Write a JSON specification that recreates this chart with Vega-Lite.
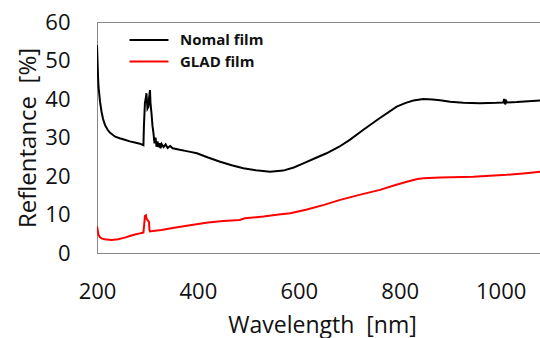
{
  "$schema": "https://vega.github.io/schema/vega-lite/v6.json",
  "autosize": {"type": "none"},
  "padding": {"left": 97, "top": 22, "right": 0, "bottom": 85},
  "width": 444,
  "height": 231,
  "background": "white",
  "config": {
    "view": {"stroke": "#888888", "strokeWidth": 1},
    "font": "Open Sans"
  },
  "datasets": {
    "nomal": [
      {"w":200,"r":54},{"w":201,"r":50},{"w":202,"r":46},{"w":203,"r":43.2},{"w":206,"r":39.3},{"w":209,"r":36.7},{"w":212,"r":34.8},{"w":216,"r":33.2},{"w":221,"r":32},{"w":226,"r":31.2},{"w":236,"r":30.2},{"w":245,"r":29.8},{"w":255,"r":29.4},{"w":265,"r":29},{"w":275,"r":28.7},{"w":285,"r":28.4},{"w":292,"r":28.0},{"w":293,"r":33},{"w":295,"r":39},{"w":297,"r":40.5},{"w":298,"r":41.5},{"w":300,"r":37.5},{"w":302,"r":38},{"w":303,"r":40},{"w":305,"r":42.3},{"w":306,"r":39},{"w":308,"r":36.3},{"w":310,"r":33},{"w":312,"r":31},{"w":314,"r":28.5},{"w":316,"r":30},{"w":318,"r":27.6},{"w":320,"r":29},{"w":322,"r":27.5},{"w":324,"r":28.5},{"w":326,"r":27.2},{"w":328,"r":28.3},{"w":332,"r":27.5},{"w":336,"r":28.2},{"w":340,"r":27.3},{"w":345,"r":27.8},{"w":350,"r":27.2},{"w":364,"r":26.8},{"w":380,"r":26.4},{"w":398,"r":25.9},{"w":420,"r":24.8},{"w":444,"r":23.7},{"w":467,"r":22.8},{"w":490,"r":22},{"w":515,"r":21.5},{"w":543,"r":21.1},{"w":569,"r":21.4},{"w":590,"r":22.2},{"w":609,"r":23.3},{"w":632,"r":24.6},{"w":655,"r":25.9},{"w":680,"r":27.6},{"w":701,"r":29.4},{"w":728,"r":32},{"w":760,"r":35},{"w":794,"r":38},{"w":812,"r":39},{"w":827,"r":39.6},{"w":847,"r":40},{"w":865,"r":39.9},{"w":880,"r":39.7},{"w":900,"r":39.3},{"w":926,"r":39.0},{"w":959,"r":38.9},{"w":992,"r":39.0},{"w":1005,"r":39.1},{"w":1007,"r":40.0},{"w":1009,"r":38.6},{"w":1011,"r":39.5},{"w":1013,"r":39.1},{"w":1032,"r":39.2},{"w":1055,"r":39.4},{"w":1080,"r":39.6}
    ],
    "glad": [
      {"w":200,"r":7},{"w":201,"r":6.2},{"w":203,"r":4.7},{"w":206,"r":4.1},{"w":209,"r":3.8},{"w":215,"r":3.6},{"w":229,"r":3.4},{"w":242,"r":3.6},{"w":255,"r":4.0},{"w":265,"r":4.4},{"w":275,"r":4.8},{"w":285,"r":5.1},{"w":292,"r":5.3},{"w":294,"r":8},{"w":295,"r":9.6},{"w":297,"r":9.8},{"w":298,"r":9.0},{"w":300,"r":8.6},{"w":303,"r":8.1},{"w":304,"r":6},{"w":305,"r":5.6},{"w":315,"r":5.8},{"w":328,"r":6.0},{"w":350,"r":6.5},{"w":375,"r":7.0},{"w":394,"r":7.4},{"w":420,"r":7.9},{"w":450,"r":8.3},{"w":483,"r":8.6},{"w":493,"r":9.0},{"w":530,"r":9.5},{"w":560,"r":10.0},{"w":583,"r":10.3},{"w":616,"r":11.3},{"w":650,"r":12.5},{"w":682,"r":13.8},{"w":720,"r":15.1},{"w":761,"r":16.4},{"w":790,"r":17.6},{"w":814,"r":18.5},{"w":835,"r":19.2},{"w":847,"r":19.4},{"w":880,"r":19.6},{"w":946,"r":19.8},{"w":1012,"r":20.3},{"w":1050,"r":20.7},{"w":1080,"r":21.1}
    ],
    "xticks": [{"w":400},{"w":600},{"w":800},{"w":1000}],
    "yticks": [{"r":10},{"r":20},{"r":30},{"r":40},{"r":50}]
  },
  "encoding": {
    "x": {
      "field": "w", "type": "quantitative",
      "scale": {"domain": [200, 1080], "nice": false, "zero": false},
      "axis": {
        "values": [200, 400, 600, 800, 1000],
        "format": "d",
        "title": "Wavelength\u00a0\u00a0[nm]",
        "titleX": 225,
        "titleFontSize": 23, "titleFontWeight": "normal", "titleColor": "#111", "titlePadding": 12,
        "labelFontSize": 22, "labelColor": "#111", "labelPadding": 28,
        "ticks": false, "domainColor": "#888",
        "grid": false, "labelFlush": false, "labelOverlap": false
      }
    },
    "y": {
      "field": "r", "type": "quantitative",
      "scale": {"domain": [0, 60], "nice": false},
      "axis": {
        "values": [0, 10, 20, 30, 40, 50, 60],
        "title": "Reflentance\u00a0\u00a0[%]",
        "titleFontSize": 24, "titleFontWeight": "normal", "titleColor": "#111", "titlePadding": 4,
        "labelFontSize": 22, "labelColor": "#111", "labelPadding": 27,
        "ticks": false, "domainColor": "#888",
        "grid": false, "labelFlush": false, "labelOverlap": false
      }
    }
  },
  "layer": [
    {
      "data": {"name": "xticks"},
      "mark": {"type": "rule", "color": "#777777", "strokeWidth": 1},
      "encoding": {
        "y": {"datum": 0},
        "y2": {"datum": 2.08}
      }
    },
    {
      "data": {"name": "yticks"},
      "mark": {"type": "rule", "color": "#777777", "strokeWidth": 1},
      "encoding": {
        "x": {"datum": 200},
        "x2": {"datum": 215.9}
      }
    },
    {
      "data": {"name": "glad"},
      "transform": [{"calculate": "'GLAD film'", "as": "s"}],
      "mark": {"type": "line", "strokeWidth": 2, "clip": true},
      "encoding": {
        "color": {
          "field": "s", "type": "nominal",
          "scale": {"domain": ["Nomal film", "GLAD film"], "range": ["#000000", "#ff0000"]},
          "legend": {
            "title": null, "orient": "none", "legendX": 41, "legendY": 7,
            "symbolType": "M-2,0H2", "symbolSize": 380, "symbolStrokeWidth": 2,
            "labelFontSize": 15, "labelFontWeight": "bold", "labelColor": "#111",
            "labelOffset": 20, "rowPadding": 2.5
          }
        }
      }
    },
    {
      "data": {"name": "nomal"},
      "transform": [{"calculate": "'Nomal film'", "as": "s"}],
      "mark": {"type": "line", "strokeWidth": 2, "clip": true},
      "encoding": {
        "color": {"field": "s", "type": "nominal"}
      }
    }
  ]
}
